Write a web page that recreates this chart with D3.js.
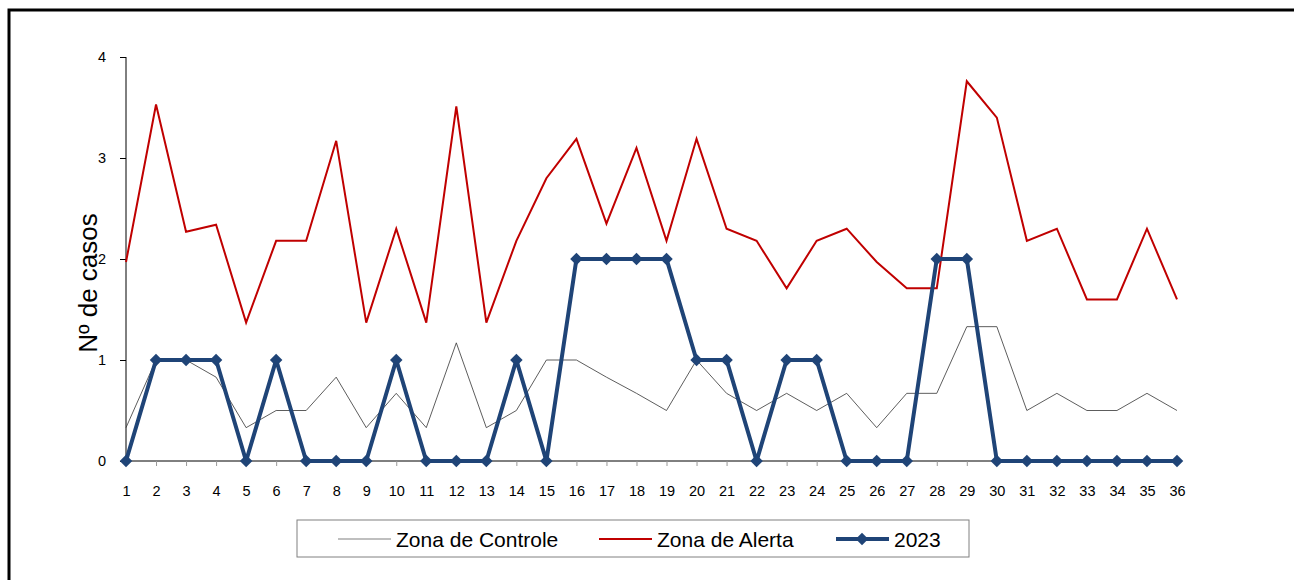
<!DOCTYPE html>
<html>
<head>
<meta charset="utf-8">
<script src="https://cdn.jsdelivr.net/npm/d3@7"></script>
<style>
  body { margin: 0; background: #fff; }
  svg { font-family: "Liberation Sans", Arial, sans-serif; }
</style>
</head>
<body>
<svg class="chart"></svg>
<script>
// week numbers on the x axis
let semanas = d3.range(1, 37);

// values
let zonaControle = [0.33, 1, 1, 0.83, 0.33, 0.5, 0.5, 0.83, 0.33, 0.67, 0.33, 1.17,
  0.33, 0.5, 1, 1, 0.83, 0.67, 0.5, 1, 0.67, 0.5, 0.67, 0.5,
  0.67, 0.33, 0.67, 0.67, 1.33, 1.33, 0.5, 0.67, 0.5, 0.5, 0.67, 0.5];

let zonaAlerta = [1.97, 3.53, 2.27, 2.34, 1.37, 2.18, 2.18, 3.17, 1.37, 2.3, 1.37, 3.51,
  1.37, 2.18, 2.8, 3.19, 2.35, 3.1, 2.18, 3.19, 2.3, 2.18, 1.71, 2.18,
  2.3, 1.97, 1.71, 1.71, 3.76, 3.4, 2.18, 2.3, 1.6, 1.6, 2.3, 1.6];

let casos2023 = [0, 1, 1, 1, 0, 1, 0, 0, 0, 1, 0, 0, 0, 1, 0, 2, 2, 2, 2, 1, 1, 0,
  1, 1, 0, 0, 0, 2, 2, 0, 0, 0, 0, 0, 0, 0];

let yTicks = [0, 1, 2, 3, 4];
let legendLabels = ["Zona de Controle", "Zona de Alerta", "2023"];

let svgW = 1294, svgH = 580;
let margin = {top: 57, left: 126};
let width = 1177 - 126;
let height = 461 - 57;

let svg = d3.select(".chart")
  .attr("width", svgW)
  .attr("height", svgH);

// outer frame
svg.append("rect")
  .attr("x", 9).attr("y", 10)
  .attr("width", svgW + 10).attr("height", svgH + 10)
  .attr("fill", "none")
  .attr("stroke", "#000")
  .attr("stroke-width", 3);

let main = svg.append("g")
  .attr("transform", "translate(" + margin.left + "," + margin.top + ")");

let x = d3.scalePoint()
  .domain(semanas)
  .range([0, width]);

let y = d3.scaleLinear()
  .domain([0, 4])
  .range([height, 0]);

// y axis
let yAxis = main.append("g")
  .call(d3.axisLeft(y).tickValues(yTicks).tickSize(6).tickPadding(14).tickFormat(d3.format("d")));
yAxis.select(".domain").attr("stroke", "#000").attr("d", "M0,0V" + height);
yAxis.selectAll(".tick line").attr("stroke", "#000");
yAxis.selectAll("text").attr("font-size", 14.5).attr("fill", "#000")
  .attr("font-family", "Liberation Sans, Arial, sans-serif");

// x axis
let xAxis = main.append("g")
  .attr("transform", "translate(0," + height + ")")
  .call(d3.axisBottom(x).tickSize(5).tickPadding(20));
xAxis.select(".domain").attr("stroke", "#000").attr("d", "M0,0H" + width);
xAxis.selectAll(".tick line").attr("stroke", "#999");
xAxis.selectAll("text").attr("font-size", 14.5).attr("fill", "#000")
  .attr("font-family", "Liberation Sans, Arial, sans-serif");

// y axis title
svg.append("text")
  .attr("transform", "translate(97,283) rotate(-90)")
  .attr("text-anchor", "middle")
  .attr("font-size", 26)
  .attr("fill", "#000")
  .text("Nº de casos");

let line = d3.line()
  .x(function(d, i) { return x(semanas[i]); })
  .y(function(d) { return y(d); });

main.append("path")
  .datum(zonaControle)
  .attr("d", line)
  .attr("fill", "none")
  .attr("stroke", "#333")
  .attr("stroke-width", 0.8);

main.append("path")
  .datum(zonaAlerta)
  .attr("d", line)
  .attr("fill", "none")
  .attr("stroke", "#c00000")
  .attr("stroke-width", 2);

main.append("path")
  .datum(casos2023)
  .attr("d", line)
  .attr("fill", "none")
  .attr("stroke", "#1f4477")
  .attr("stroke-width", 4)
  .attr("stroke-linejoin", "round");

// square turned 45 degrees
let diamond = d3.symbol().type(d3.symbolSquare).size(78);

main.append("g").selectAll("path")
  .data(casos2023)
  .enter().append("path")
  .attr("d", diamond)
  .attr("transform", function(d, i) { return "translate(" + x(semanas[i]) + "," + y(d) + ") rotate(45)"; })
  .attr("fill", "#1f4477");

// legend
let legend = svg.append("g");
legend.append("rect")
  .attr("x", 297).attr("y", 520)
  .attr("width", 672).attr("height", 37)
  .attr("fill", "#fff")
  .attr("stroke", "#808080")
  .attr("stroke-width", 1);

let legendItems = [
  {x: 338, color: "#aaa", w: 1.5, marker: false},
  {x: 599, color: "#c00000", w: 2, marker: false},
  {x: 836, color: "#1f4477", w: 4, marker: true}
];

legendItems.forEach(function(it, i) {
  legend.append("line")
    .attr("x1", it.x).attr("x2", it.x + 53)
    .attr("y1", 539).attr("y2", 539)
    .attr("stroke", it.color)
    .attr("stroke-width", it.w);
  if (it.marker) {
    legend.append("path")
      .attr("d", diamond)
      .attr("transform", "translate(" + (it.x + 26) + ",539) rotate(45)")
      .attr("fill", it.color);
  }
  legend.append("text")
    .attr("x", it.x + 58)
    .attr("y", 547)
    .attr("font-size", 21)
    .attr("fill", "#000")
    .text(legendLabels[i]);
});
</script>
</body>
</html>
